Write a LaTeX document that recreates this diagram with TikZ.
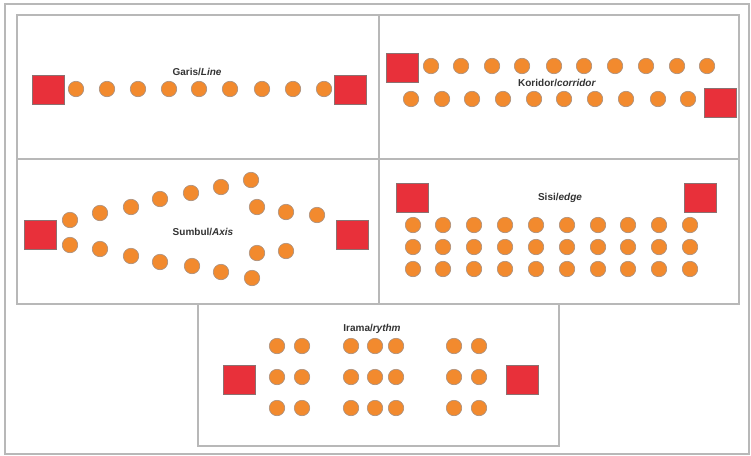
\documentclass[tikz,border=0pt]{standalone}
\usepackage{fontspec}
\setmainfont{Liberation Sans}
\definecolor{framegray}{HTML}{B8B8B8}
\definecolor{seatfill}{HTML}{F28A2E}
\definecolor{seatedge}{HTML}{A89080}
\definecolor{spkfill}{HTML}{E8303A}
\definecolor{spkedge}{HTML}{8C7070}
\definecolor{txtgray}{HTML}{333333}
\begin{document}
\begin{tikzpicture}[x=1pt,y=-1pt,
  frame/.style={draw=framegray,line width=1.3pt},
  seat/.style={circle,draw=seatedge,fill=seatfill,line width=0.6pt,minimum size=15.5pt,inner sep=0pt},
  spk/.style={rectangle,draw=spkedge,fill=spkfill,line width=0.8pt,minimum width=32pt,minimum height=29pt,inner sep=0pt},
  ttl/.style={font=\fontsize{10}{12}\selectfont\bfseries,text=txtgray,inner sep=0pt}]
\useasboundingbox (0,0) rectangle (751,455);
% frames
\draw[frame] (5,4) rectangle (749,454);
\draw[frame] (17,15) rectangle (739,304);
\draw[frame] (17,159) -- (739,159);
\draw[frame] (379,15) -- (379,304);
\draw[frame] (198,304) rectangle (559,446);

% Panel 1: Garis/Line
\node[ttl] (t1) at (197,72) {Garis/\textit{Line}};
\node[spk] (p1L) at (48,90) {};
\node[spk] (p1R) at (350,90) {};
\foreach \x [count=\i] in {76,107,138,169,199,230,262,293,324}
  \node[seat] (p1s\i) at (\x,89) {};

% Panel 2: Koridor/corridor
\node[ttl] (t2) at (557,83) {Koridor/\textit{corridor}};
\node[spk] (p2L) at (402,68) {};
\node[spk] (p2R) at (720,103) {};
\foreach \x [count=\i] in {431,461,492,522,554,584,615,646,677,707}
  \node[seat] (p2a\i) at (\x,66) {};
\foreach \x [count=\i] in {411,442,472,503,534,564,595,626,658,688}
  \node[seat] (p2b\i) at (\x,99) {};

% Panel 3: Sumbul/Axis
\node[ttl] (t3) at (203,232) {Sumbul/\textit{Axis}};
\node[spk] (p3L) at (40,234.5) {};
\node[spk] (p3R) at (352,234.5) {};
\foreach \x/\y [count=\i] in {70/220,100/213,131/207,160/199,191/193,221/187,251/180,257/207,286/212,317/215}
  \node[seat] (p3a\i) at (\x,\y) {};
\foreach \x/\y [count=\i] in {70/245,100/249,131/256,160/262,192/266,221/272,252/278,257/253,286/251}
  \node[seat] (p3b\i) at (\x,\y) {};

% Panel 4: Sisi/edge
\node[ttl] (t4) at (560,198) {Sisi/\textit{edge}};
\node[spk] (p4L) at (412,198) {};
\node[spk] (p4R) at (700,198) {};
\foreach \y [count=\j] in {225,247,269}
  \foreach \x [count=\i] in {413,443,474,505,536,567,598,628,659,690}
    \node[seat] (p4s\j-\i) at (\x,\y) {};

% Panel 5: Irama/rythm
\node[ttl] (t5) at (372,329) {Irama/\textit{rythm}};
\node[spk] (p5L) at (239,379.5) {};
\node[spk] (p5R) at (522,379.5) {};
\foreach \y [count=\j] in {346,377,408}
  \foreach \x [count=\i] in {277,302,351,375,396,454,479}
    \node[seat] (p5s\j-\i) at (\x,\y) {};
\end{tikzpicture}
\end{document}
